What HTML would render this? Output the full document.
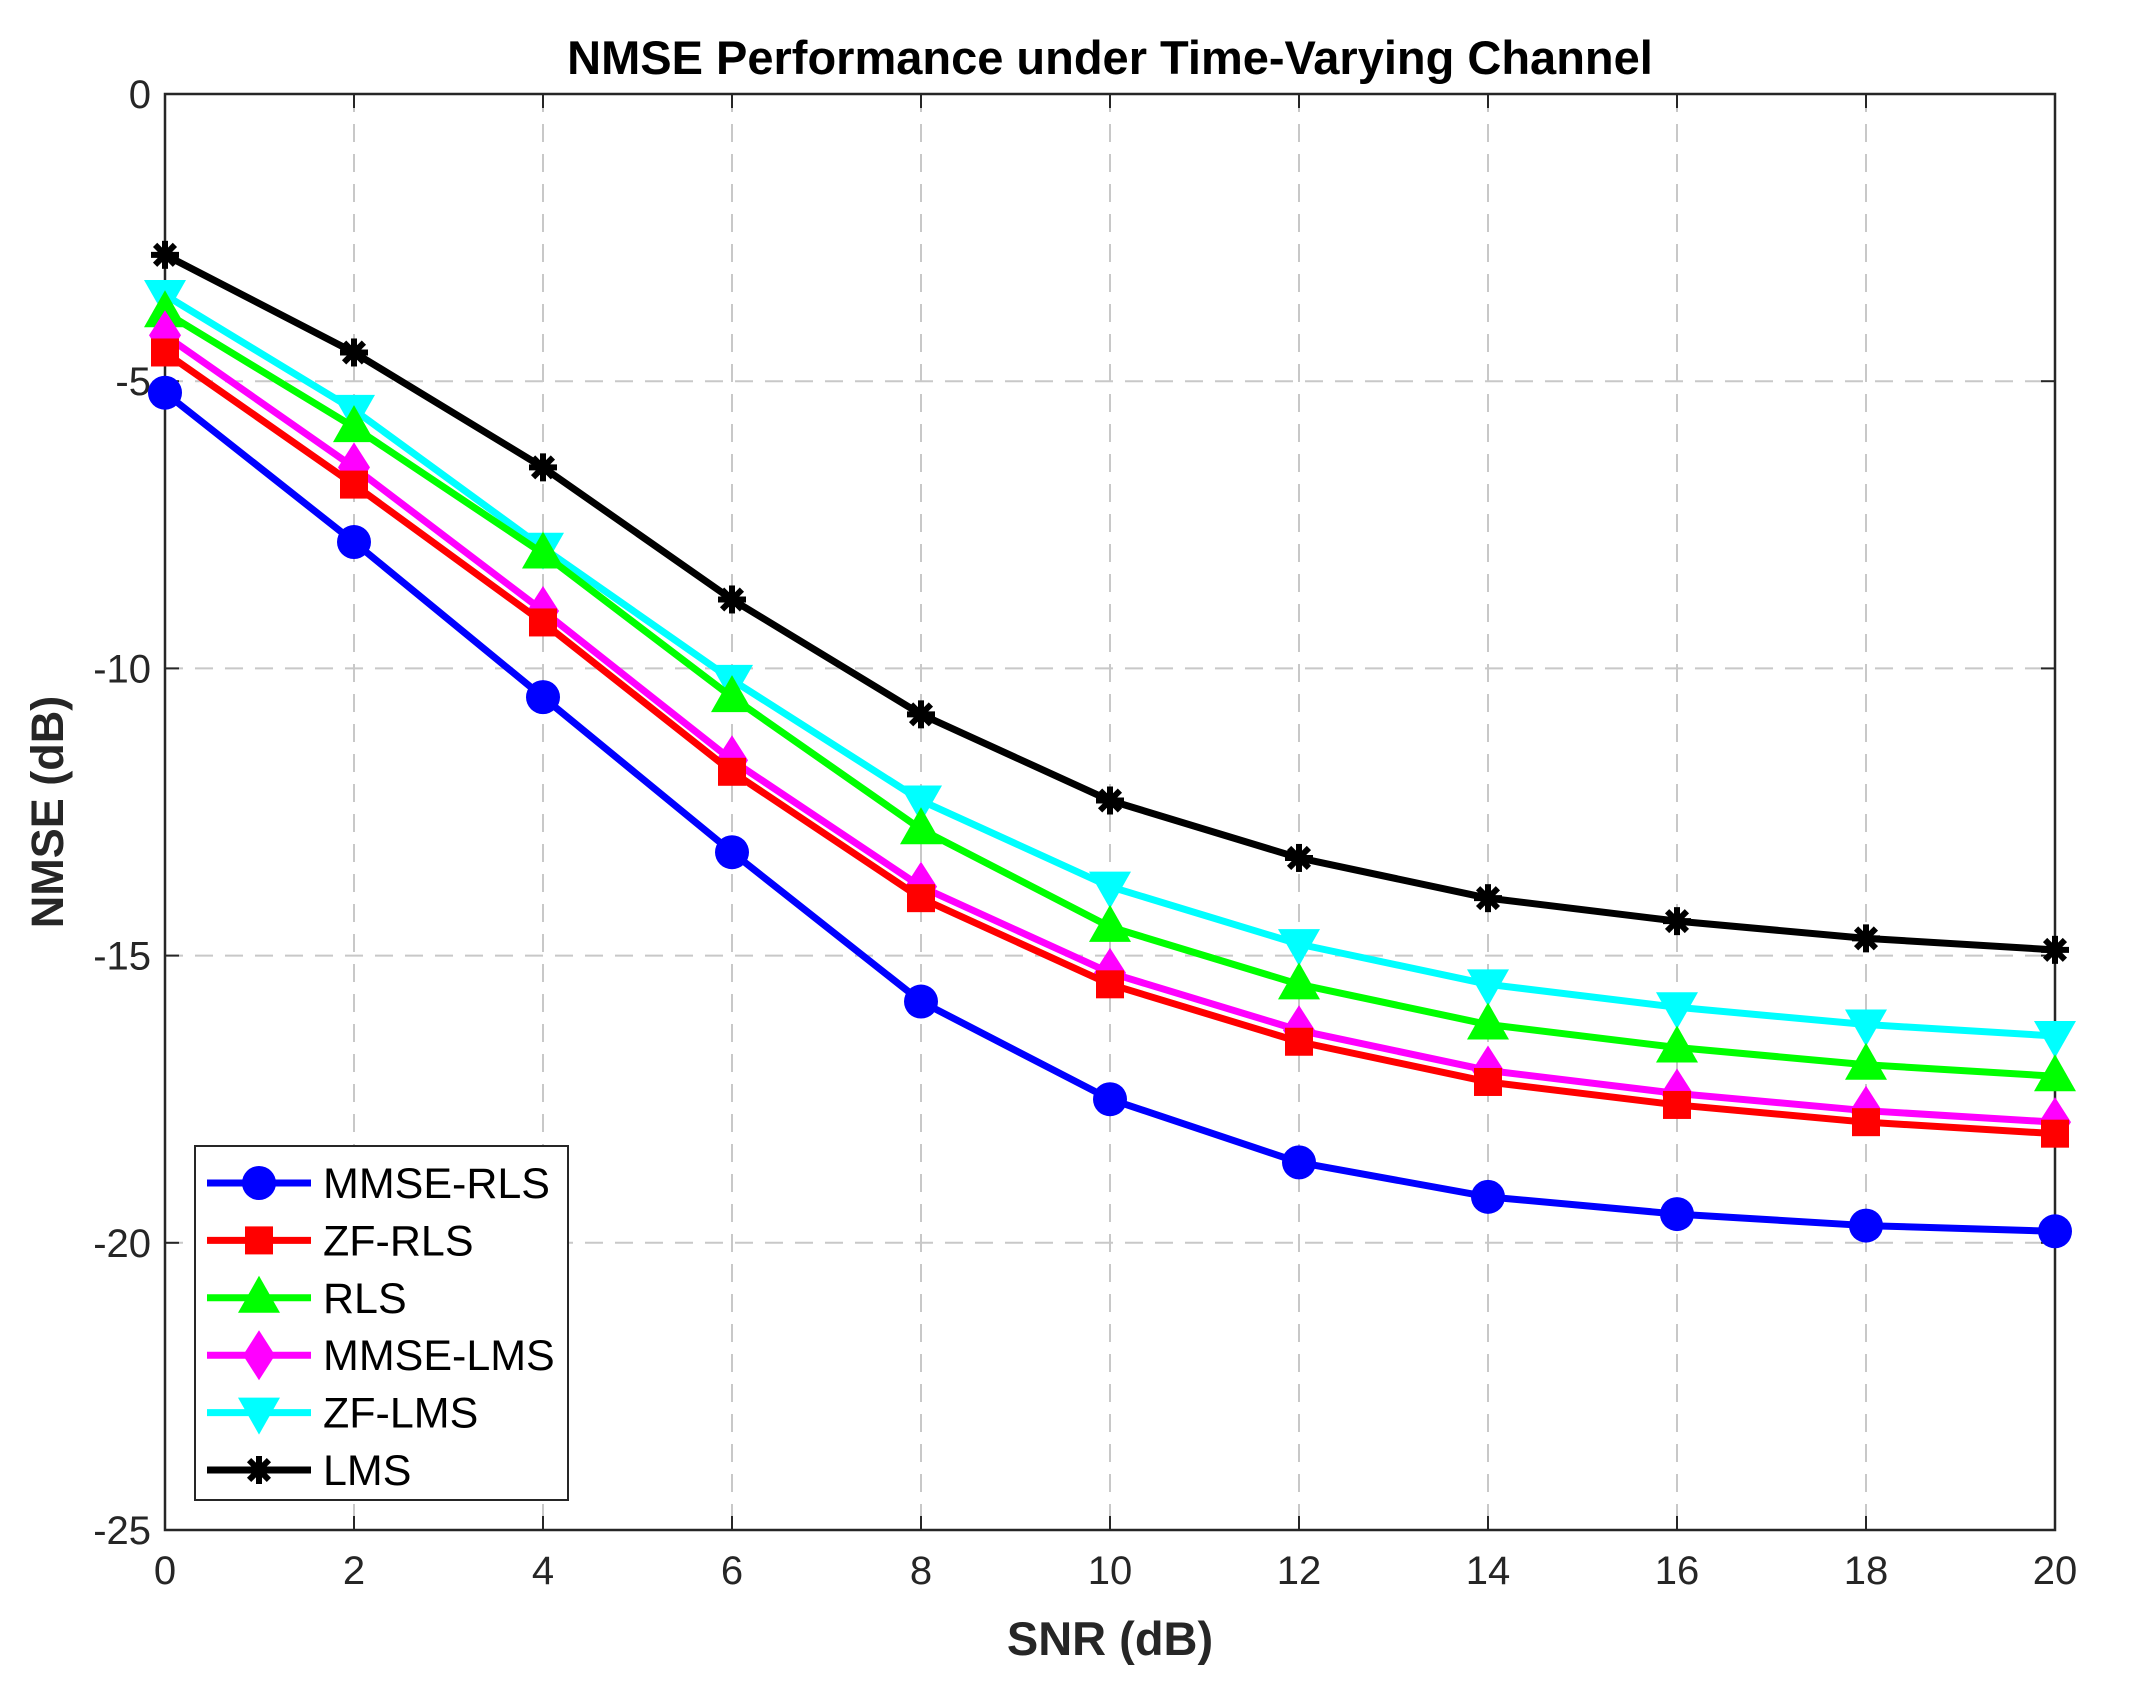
<!DOCTYPE html>
<html><head><meta charset="utf-8"><style>
html,body{margin:0;padding:0;background:#fff;}
svg{display:block;font-family:"Liberation Sans",Arial,sans-serif;}
</style></head><body>
<svg id="chart" width="2134" height="1700" viewBox="0 0 2134 1700" xmlns="http://www.w3.org/2000/svg">
<rect width="2134" height="1700" fill="#fff"/>
<g id="grid"></g>
<g id="axes"></g>
<g id="series"></g>
<g id="legend"></g>
</svg>
<script>
const snr = [0,2,4,6,8,10,12,14,16,18,20];
const xTicks = [0,2,4,6,8,10,12,14,16,18,20];
const yTicks = [0,-5,-10,-15,-20,-25];
const mmseRls = [-5.2,-7.8,-10.5,-13.2,-15.8,-17.5,-18.6,-19.2,-19.5,-19.7,-19.8];
const zfRls   = [-4.5,-6.8,-9.2,-11.8,-14.0,-15.5,-16.5,-17.2,-17.6,-17.9,-18.1];
const rls     = [-3.8,-5.8,-8.0,-10.5,-12.8,-14.5,-15.5,-16.2,-16.6,-16.9,-17.1];
const mmseLms = [-4.2,-6.5,-9.0,-11.6,-13.8,-15.3,-16.3,-17.0,-17.4,-17.7,-17.9];
const zfLms   = [-3.5,-5.5,-7.9,-10.2,-12.3,-13.8,-14.8,-15.5,-15.9,-16.2,-16.4];
const lms     = [-2.8,-4.5,-6.5,-8.8,-10.8,-12.3,-13.3,-14.0,-14.4,-14.7,-14.9];
const seriesNames = ["MMSE-RLS","ZF-RLS","RLS","MMSE-LMS","ZF-LMS","LMS"];

const NS="http://www.w3.org/2000/svg";
const L=165,R=2055,T=94,B=1530;
const xMin=0,xMax=20,yMin=-25,yMax=0;
const xs=v=>L+(v-xMin)/(xMax-xMin)*(R-L);
const ys=v=>T+(yMax-v)/(yMax-yMin)*(B-T);
function mk(tag,attrs,parent){const e=document.createElementNS(NS,tag);for(const k in attrs)e.setAttribute(k,attrs[k]);parent.appendChild(e);return e;}
const grid=document.getElementById('grid'),axes=document.getElementById('axes'),ser=document.getElementById('series'),leg=document.getElementById('legend'),svg=document.getElementById('chart');

xTicks.forEach(t=>{
  const x=xs(t);
  if(t>xMin&&t<xMax){const g=mk('line',{x1:x,y1:T,x2:x,y2:B,stroke:'#c8c8c8','stroke-width':2,'stroke-dasharray':'18,12'},grid);
  }
  const tk=mk('line',{x1:x,y1:B,x2:x,y2:B-14,stroke:'#262626','stroke-width':2},axes);
  
  const tk2=mk('line',{x1:x,y1:T,x2:x,y2:T+14,stroke:'#262626','stroke-width':2},axes);
  
  const lb=mk('text',{x:x,y:B+54,'text-anchor':'middle','font-size':40,fill:'#262626'},axes);lb.textContent=t;
  
});
yTicks.forEach(t=>{
  const y=ys(t);
  if(t>yMin&&t<yMax){const g=mk('line',{x1:L,y1:y,x2:R,y2:y,stroke:'#c8c8c8','stroke-width':2,'stroke-dasharray':'18,12'},grid);
  }
  const tk=mk('line',{x1:L,y1:y,x2:L+14,y2:y,stroke:'#262626','stroke-width':2},axes);
  
  const tk2=mk('line',{x1:R,y1:y,x2:R-14,y2:y,stroke:'#262626','stroke-width':2},axes);
  
  const lb=mk('text',{x:L-14,y:y+14,'text-anchor':'end','font-size':40,fill:'#262626'},axes);lb.textContent=t;
  
});
const box=mk('rect',{x:L,y:T,width:R-L,height:B-T,fill:'none',stroke:'#262626','stroke-width':2.5},axes);

const title=mk('text',{x:(L+R)/2,y:74,'text-anchor':'middle','font-size':47,'font-weight':'bold',fill:'#000'},svg);
title.textContent='NMSE Performance under Time-Varying Channel';

const xl=mk('text',{x:(L+R)/2,y:1655,'text-anchor':'middle','font-size':47,'font-weight':'bold',fill:'#262626'},svg);
xl.textContent='SNR (dB)';
const yl=mk('text',{x:0,y:0,'text-anchor':'middle','font-size':45,'font-weight':'bold',fill:'#262626',transform:`translate(63,${(T+B)/2}) rotate(-90)`},svg);
yl.textContent='NMSE (dB)';

function marker(type,x,y,color,parent){
  let e;
  if(type==='circle')e=mk('circle',{cx:x,cy:y,r:17,fill:color},parent);
  else if(type==='square')e=mk('rect',{x:x-14,y:y-14,width:28,height:28,fill:color},parent);
  else if(type==='tri')e=mk('polygon',{points:`${x},${y-22} ${x-21},${y+15} ${x+21},${y+15}`,fill:color},parent);
  else if(type==='diamond')e=mk('polygon',{points:`${x},${y-25} ${x-16},${y} ${x},${y+25} ${x+16},${y}`,fill:color},parent);
  else if(type==='tridown')e=mk('polygon',{points:`${x},${y+22} ${x-21},${y-15} ${x+21},${y-15}`,fill:color},parent);
  else {e=mk('g',{},parent);mk('circle',{cx:x,cy:y,r:8,fill:color},e);for(let a=0;a<4;a++){const ang=a*Math.PI/4;mk('line',{x1:x-14*Math.cos(ang),y1:y-14*Math.sin(ang),x2:x+14*Math.cos(ang),y2:y+14*Math.sin(ang),stroke:color,'stroke-width':6},e);}}
  return e;
}
const data=[mmseRls,zfRls,rls,mmseLms,zfLms,lms];
const colors=['#0000ff','#ff0000','#00ff00','#ff00ff','#00ffff','#000000'];
const marks=['circle','square','tri','diamond','tridown','star'];
const order=[5,4,2,3,1,0];
order.forEach(i=>{
  const g=mk('g',{},ser);
  
  
  const pts=snr.map((s,j)=>xs(s)+','+ys(data[i][j])).join(' ');
  const pl=mk('polyline',{points:pts,fill:'none',stroke:colors[i],'stroke-width':7,'stroke-linejoin':'round'},g);
  
  
  snr.forEach((s,j)=>{
    const m=marker(marks[i],xs(s),ys(data[i][j]),colors[i],g);
    
    
  });
});
const lb=mk('rect',{x:195,y:1146,width:373,height:354,fill:'#fff',stroke:'#262626','stroke-width':2},leg);

seriesNames.forEach((n,i)=>{
  const y=1183+i*57.4;
  const g=mk('g',{},leg);
  
  
  mk('line',{x1:207,y1:y,x2:311,y2:y,stroke:colors[i],'stroke-width':7},g);
  marker(marks[i],259,y,colors[i],g);
  const t=mk('text',{x:323,y:y+15,'font-size':43,fill:'#000'},g);t.textContent=n;
});
</script>
</body></html>
